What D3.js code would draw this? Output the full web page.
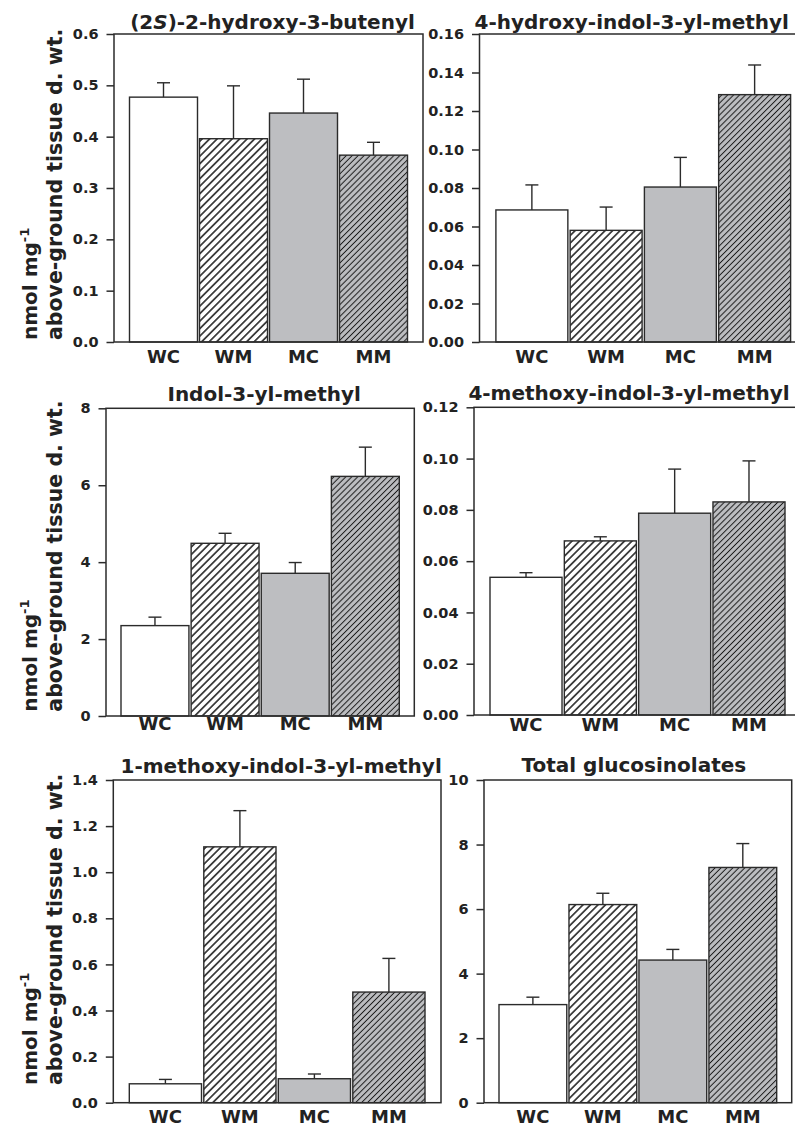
<!DOCTYPE html>
<html>
<head>
<meta charset="utf-8">
<script src="https://cdn.jsdelivr.net/npm/d3@7"></script>
<style>
  body { margin: 0; background: #fff; }
  svg { display: block; }
  text { font-family: "DejaVu Sans", sans-serif; font-weight: bold; fill: #222; }
</style>
</head>
<body>
<svg id="chart" width="795" height="1129"></svg>
<script>
var categories = ['WC', 'WM', 'MC', 'MM'];

var titles = [
  '(2S)-2-hydroxy-3-butenyl',
  '4-hydroxy-indol-3-yl-methyl',
  'Indol-3-yl-methyl',
  '4-methoxy-indol-3-yl-methyl',
  '1-methoxy-indol-3-yl-methyl',
  'Total glucosinolates'
];

// means and standard errors, nmol mg-1
var butenylMean = [0.477, 0.396, 0.446, 0.364];
var butenylErr = [0.028, 0.103, 0.066, 0.025];
var hydroxyIndolMean = [0.0686, 0.058, 0.0805, 0.1285];
var hydroxyIndolErr = [0.013, 0.0121, 0.0154, 0.0154];
var indolMean = [2.35, 4.49, 3.71, 6.23];
var indolErr = [0.22, 0.26, 0.28, 0.76];
var methoxy4Mean = [0.0537, 0.0679, 0.0787, 0.0831];
var methoxy4Err = [0.0018, 0.0016, 0.0172, 0.016];
var methoxy1Mean = [0.082, 1.11, 0.104, 0.48];
var methoxy1Err = [0.019, 0.157, 0.0205, 0.146];
var totalMean = [3.04, 6.14, 4.42, 7.29];
var totalErr = [0.23, 0.35, 0.33, 0.74];

var yMax = [0.6, 0.16, 8, 0.12, 1.4, 10];
var yStep = [0.1, 0.02, 2, 0.02, 0.2, 2];
var yFormat = ['.1f', '.2f', 'd', '.2f', '.1f', 'd'];

var means = [butenylMean, hydroxyIndolMean, indolMean, methoxy4Mean, methoxy1Mean, totalMean];
var errs = [butenylErr, hydroxyIndolErr, indolErr, methoxy4Err, methoxy1Err, totalErr];

// panel boxes on the page
var layout = [
  {x0: 114, x1: 423, y0: 34, y1: 342, pad: 15.5, gap: 2, labelDy: 20.5, titleY: 29},
  {x0: 479.5, x1: 807, y0: 34, y1: 342, pad: 16.4, gap: 2.3, labelDy: 20.5, titleY: 29},
  {x0: 106, x1: 414.3, y0: 408.3, y1: 716, pad: 15, gap: 2.2, labelDy: 13.5, titleY: 401},
  {x0: 474, x1: 801, y0: 407.3, y1: 715, pad: 16, gap: 2.3, labelDy: 16, titleY: 400},
  {x0: 113.3, x1: 441, y0: 780, y1: 1102.7, pad: 16, gap: 2.3, labelDy: 20.5, titleY: 772.5},
  {x0: 484, x1: 791.7, y0: 780, y1: 1102.7, pad: 15, gap: 2.2, labelDy: 20.5, titleY: 772}
];

var fills = ['#ffffff', 'url(#hatchW)', '#bdbec1', 'url(#hatchM)'];
var ink = '#2b2b2b';

var svg = d3.select('#chart');
var defs = svg.append('defs');

function hatch(id, bg, spacing, width) {
  var p = defs.append('pattern')
    .attr('id', id)
    .attr('patternUnits', 'userSpaceOnUse')
    .attr('width', spacing)
    .attr('height', spacing)
    .attr('patternTransform', 'rotate(45)')
  ;
  p.append('rect')
    .attr('width', spacing).attr('height', spacing)
    .attr('fill', bg);
  p.append('line')
    .attr('x1', spacing / 2).attr('y1', 0)
    .attr('x2', spacing / 2).attr('y2', spacing)
    .attr('stroke', '#1a1a1a')
    .attr('stroke-width', width);
}
hatch('hatchW', '#ffffff', 5.3, 1.5);
hatch('hatchM', '#bdbec1', 4.2, 1.0);

function drawPanel(i) {
  var L = layout[i];
  var g = svg.append('g');
  var data = categories.map(function(c, k) {
    return {cat: c, mean: means[i][k], err: errs[i][k], fill: fills[k]};
  });

  var bandStart = L.x0 + L.pad - L.gap / 2;
  var bandEnd = L.x1 - L.pad + L.gap / 2;
  var step = (bandEnd - bandStart) / categories.length;
  var x = d3.scaleBand()
    .domain(categories)
    .range([bandStart, bandEnd])
    .paddingInner(L.gap / step)
    .paddingOuter(L.gap / step / 2)
  ;
  var y = d3.scaleLinear().domain([0, yMax[i]]).range([L.y1, L.y0]);

  g.selectAll('rect.bar')
    .data(data)
    .enter()
    .append('rect')
    .attr('class', 'bar')
    .attr('x', function(d) { return x(d.cat); })
    .attr('width', x.bandwidth())
    .attr('y', function(d) { return y(d.mean); })
    .attr('height', function(d) { return y(0) - y(d.mean); })
    .attr('fill', function(d) { return d.fill; })
    .attr('stroke', ink)
    .attr('stroke-width', 1.4)
  ;

  var eb = g.selectAll('g.err')
    .data(data)
    .enter()
    .append('g')
    .attr('class', 'err')
    .attr('stroke', ink)
    .attr('stroke-width', 1.4)
  ;
  eb.append('line')
    .attr('x1', function(d) { return x(d.cat) + x.bandwidth() / 2; })
    .attr('x2', function(d) { return x(d.cat) + x.bandwidth() / 2; })
    .attr('y1', function(d) { return y(d.mean); })
    .attr('y2', function(d) { return y(d.mean + d.err); });
  eb.append('line')
    .attr('x1', function(d) { return x(d.cat) + x.bandwidth() / 2 - 6.5; })
    .attr('x2', function(d) { return x(d.cat) + x.bandwidth() / 2 + 6.5; })
    .attr('y1', function(d) { return y(d.mean + d.err); })
    .attr('y2', function(d) { return y(d.mean + d.err); });

  // frame
  g.append('rect')
    .attr('x', L.x0).attr('y', L.y0)
    .attr('width', L.x1 - L.x0).attr('height', L.y1 - L.y0)
    .attr('fill', 'none')
    .attr('stroke', ink)
    .attr('stroke-width', 1.5)
  ;

  var ticks = d3.range(0, yMax[i] + yStep[i] / 2, yStep[i]);
  var yAxis = d3.axisLeft(y)
    .tickValues(ticks)
    .tickFormat(d3.format(yFormat[i]))
    .tickSizeInner(7.5)
    .tickSizeOuter(0)
    .tickPadding(8)
  ;
  var ya = g.append('g')
    .attr('transform', 'translate(' + L.x0 + ',0)')
    .call(yAxis)
  ;
  ya.select('.domain').remove();
  ya.selectAll('line').attr('stroke', ink).attr('stroke-width', 1.5);
  ya.selectAll('text')
    .attr('font-family', null)
    .style('font-size', '14.5px')
    .attr('fill', '#222')
  ;

  var xAxis = d3.axisBottom(x).tickSize(0).tickPadding(0);
  var xa = g.append('g')
    .attr('transform', 'translate(0,' + L.y1 + ')')
    .call(xAxis)
  ;
  xa.select('.domain').remove();
  xa.selectAll('text')
    .attr('dy', null)
    .attr('y', L.labelDy)
    .attr('font-family', null)
    .style('font-size', '18px')
    .attr('fill', '#222')
  ;

  var t = g.append('text')
    .attr('x', (L.x0 + Math.min(L.x1, 792)) / 2 + (i % 2 ? -4 : 4))
    .attr('y', L.titleY)
    .attr('text-anchor', 'middle')
    .style('font-size', '20px')
  ;
  if (i === 0) {
    t.append('tspan').text('(2');
    t.append('tspan').attr('font-style', 'italic').text('S');
    t.append('tspan').text(')-2-hydroxy-3-butenyl');
  } else {
    t.text(titles[i]);
  }
}

d3.range(6).forEach(drawPanel);

// y axis titles, one per row
[340, 711.7, 1085].forEach(function(yb) {
  var lab = svg.append('g').attr('transform', 'translate(0,' + yb + ') rotate(-90)');
  var l1 = lab.append('text')
    .attr('x', 0).attr('y', 37)
    .style('font-size', '20px')
  ;
  l1.append('tspan').text('nmol mg');
  l1.append('tspan')
    .attr('dy', -8)
    .style('font-size', '13px')
    .text('-1');
  lab.append('text')
    .attr('x', 0).attr('y', 62)
    .style('font-size', '20.5px')
    .text('above-ground tissue d. wt.');
});
</script>
</body>
</html>
